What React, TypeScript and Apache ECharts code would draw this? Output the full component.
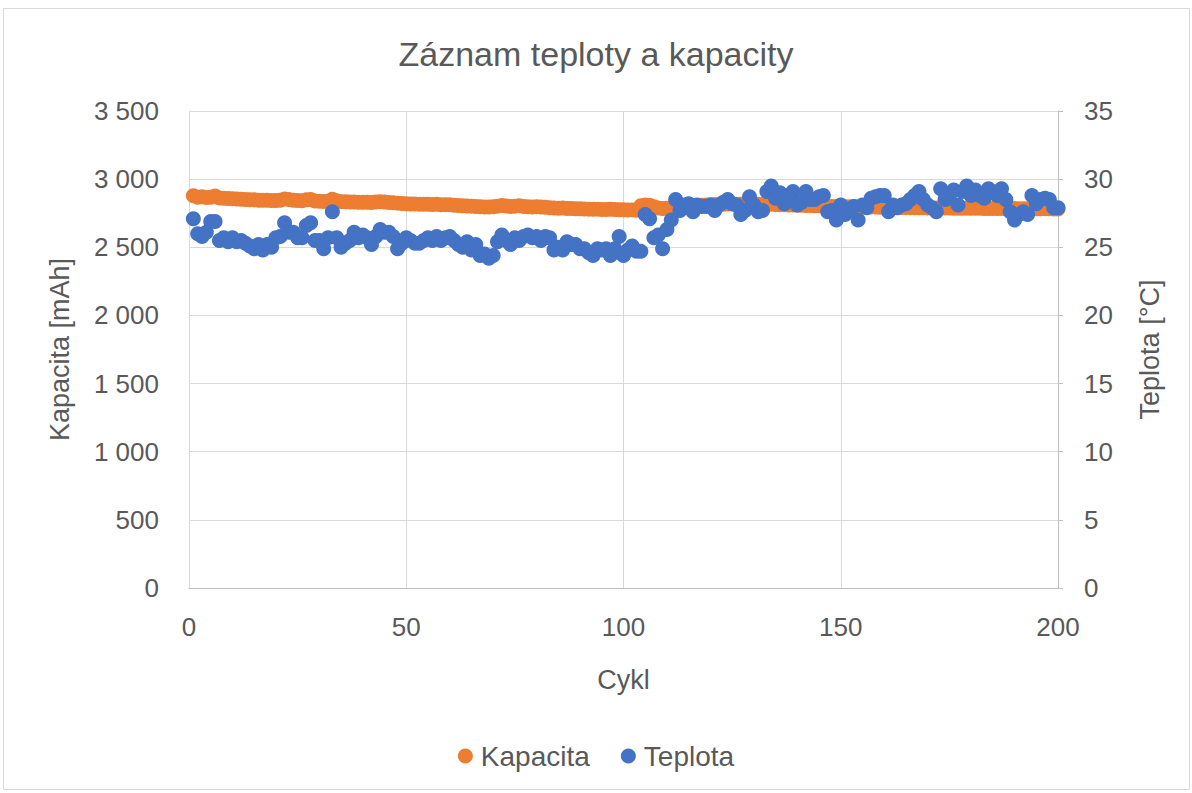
import React, { useEffect, useRef } from "react";
import * as echarts from "echarts";

const titleText = "Záznam teploty a kapacity";
const xName = "Cykl";
const leftName = "Kapacita [mAh]";
const rightName = "Teplota [°C]";
const seriesNames = ["Kapacita", "Teplota"];

const kapacita: number[] = [
  2878, 2868, 2870, 2866, 2868, 2876, 2862, 2860, 2858, 2856,
  2855, 2852, 2850, 2848, 2848, 2846, 2845, 2846, 2844, 2843,
  2846, 2855, 2850, 2846, 2844, 2842, 2848, 2850, 2840, 2838,
  2836, 2838, 2852, 2842, 2835, 2834, 2832, 2833, 2830, 2831,
  2830, 2828, 2832, 2835, 2833, 2828, 2826, 2824, 2822, 2820,
  2818, 2818, 2816, 2815, 2816, 2814, 2815, 2812, 2813, 2812,
  2808, 2806, 2805, 2803, 2802, 2800, 2798, 2796, 2795, 2797,
  2802, 2806, 2803, 2800, 2802, 2805, 2800, 2798, 2796, 2797,
  2795, 2793, 2790, 2788, 2786, 2788, 2785, 2784, 2783, 2782,
  2781, 2780, 2779, 2780, 2778, 2777, 2779, 2778, 2776, 2775,
  2774, 2773, 2772, 2805, 2810, 2808, 2798, 2788, 2785, 2786,
  2790, 2795, 2798, 2800, 2802, 2805, 2806, 2808, 2810, 2812,
  2814, 2815, 2816, 2818, 2817, 2816, 2815, 2817, 2818, 2816,
  2815, 2814, 2816, 2815, 2813, 2812, 2812, 2810, 2810, 2808,
  2808, 2806, 2806, 2805, 2804, 2803, 2802, 2800, 2800, 2800,
  2798, 2798, 2797, 2797, 2796, 2796, 2795, 2795, 2794, 2794,
  2793, 2793, 2792, 2792, 2791, 2791, 2790, 2790, 2790, 2789,
  2789, 2789, 2788, 2788, 2788, 2787, 2787, 2787, 2786, 2786,
  2786, 2786, 2785, 2785, 2785, 2785, 2784, 2784, 2784, 2784,
  2783, 2783, 2783, 2783, 2782, 2782, 2782, 2782, 2781, 2781,
];

const teplota: number[] = [
  27.1, 26.0, 25.8, 26.1, 26.9, 26.9, 25.5, 25.7, 25.4, 25.7,
  25.4, 25.5, 25.3, 25.1, 24.9, 25.2, 24.8, 25.2, 25.0, 25.7,
  25.8, 26.8, 26.1, 26.1, 25.7, 25.7, 26.6, 26.8, 25.5, 25.5,
  24.9, 25.7, 27.6, 25.7, 25.0, 25.3, 25.5, 26.1, 25.7, 25.9,
  25.7, 25.2, 25.8, 26.3, 26.1, 26.1, 25.8, 24.9, 25.3, 25.7,
  25.5, 25.3, 25.3, 25.5, 25.7, 25.5, 25.8, 25.5, 25.7, 25.8,
  25.5, 25.2, 25.0, 25.4, 24.8, 25.2, 24.4, 24.5, 24.2, 24.4,
  25.4, 25.9, 25.5, 25.2, 25.7, 25.5, 25.8, 25.9, 25.7, 25.8,
  25.5, 25.8, 25.7, 24.8, 25.0, 24.8, 25.4, 25.2, 25.2, 24.9,
  24.9, 24.6, 24.4, 24.9, 24.8, 24.9, 24.4, 24.9, 25.8, 24.4,
  24.8, 25.1, 24.7, 24.7, 27.4, 27.1, 25.7, 25.9, 24.9, 26.3,
  27.0, 28.5, 27.7, 28.1, 28.2, 27.6, 28.1, 28.0, 28.0, 28.1,
  27.7, 28.1, 28.3, 28.5, 28.2, 28.1, 27.4, 27.7, 28.7, 28.1,
  27.6, 27.7, 29.1, 29.5, 28.6, 29.0, 28.2, 28.8, 29.1, 28.1,
  28.3, 29.1, 28.5, 28.5, 28.7, 28.8, 27.6, 27.7, 27.0, 28.1,
  27.4, 27.7, 28.0, 27.0, 28.1, 27.9, 28.6, 28.7, 28.8, 28.8,
  27.6, 28.1, 27.9, 28.1, 28.2, 28.5, 28.8, 29.1, 28.5, 28.1,
  27.9, 27.6, 29.3, 28.5, 28.6, 29.2, 28.1, 29.1, 29.5, 28.8,
  29.2, 28.8, 28.6, 29.3, 29.1, 28.8, 29.3, 28.5, 27.6, 27.0,
  27.4, 27.6, 27.4, 28.8, 28.2, 28.5, 28.6, 28.5, 27.9, 27.9,
];

const FONT = "'Liberation Sans', Arial, sans-serif";
const TEXT = "#595959";

function fmtThousands(v: number): string {
  return String(v).replace(/\B(?=(\d{3})+(?!\d))/g, " ");
}

export default function App() {
  const ref = useRef<HTMLDivElement>(null);
  useEffect(() => {
    if (!ref.current) return;
    const chart = echarts.init(ref.current, undefined, { renderer: "svg" });
    const capData = kapacita.map((v, i) => [i + 1, v]);
    const tData = teplota.map((v, i) => [i + 1, v]);
    chart.setOption({
      animation: false,
      backgroundColor: "#ffffff",
      textStyle: { fontFamily: FONT },
      title: {
        text: titleText,
        left: "center",
        top: 32,
        textStyle: { fontFamily: FONT, fontSize: 34, fontWeight: "normal", color: TEXT },
      },
      graphic: [
        {
          type: "rect",
          shape: { x: 3.5, y: 8.5, width: 1186, height: 781 },
          style: { fill: "none", stroke: "#d9d9d9", lineWidth: 1 },
          silent: true,
        },
      ],
      legend: {
        top: 737,
        left: "center",
        icon: "circle",
        itemWidth: 15,
        itemHeight: 15,
        itemGap: 31,
        textStyle: { fontFamily: FONT, fontSize: 28, color: TEXT, padding: [0, 0, 0, 3] },
        data: seriesNames,
      },
      grid: { left: 189, right: 134, top: 111, bottom: 205, containLabel: false },
      xAxis: {
        type: "value",
        min: 0,
        max: 200,
        interval: 50,
        name: xName,
        nameLocation: "middle",
        nameGap: 78,
        nameTextStyle: { fontFamily: FONT, fontSize: 27, color: TEXT },
        axisLine: { show: true, lineStyle: { color: "#bfbfbf", width: 1 } },
        axisTick: { show: false },
        axisLabel: { fontFamily: FONT, fontSize: 26, color: TEXT, margin: 26 },
        splitLine: { show: true, lineStyle: { color: "#d9d9d9", width: 1 } },
      },
      yAxis: [
        {
          type: "value",
          min: 0,
          max: 3500,
          interval: 500,
          name: leftName,
          nameLocation: "middle",
          nameGap: 116,
          nameTextStyle: { fontFamily: FONT, fontSize: 27, color: TEXT },
          axisLine: { show: false },
          axisTick: { show: false },
          axisLabel: {
            fontFamily: FONT,
            fontSize: 26,
            color: TEXT,
            margin: 30,
            formatter: (v: number) => fmtThousands(v),
          },
          splitLine: { show: true, lineStyle: { color: "#d9d9d9", width: 1 } },
        },
        {
          type: "value",
          min: 0,
          max: 35,
          interval: 5,
          position: "right",
          name: rightName,
          nameLocation: "middle",
          nameGap: 78,
          nameTextStyle: { fontFamily: FONT, fontSize: 27, color: TEXT },
          axisLine: { show: true, lineStyle: { color: "#bfbfbf", width: 1 } },
          axisTick: { show: true, length: 5, lineStyle: { color: "#bfbfbf" } },
          axisLabel: { fontFamily: FONT, fontSize: 26, color: TEXT, margin: 26 },
          splitLine: { show: false },
        },
      ],
      series: [
        {
          name: seriesNames[0],
          type: "scatter",
          yAxisIndex: 0,
          symbol: "circle",
          symbolSize: 15,
          itemStyle: { color: "#ED7D31", opacity: 1 },
          data: capData,
        },
        {
          name: seriesNames[1],
          type: "scatter",
          yAxisIndex: 1,
          symbol: "circle",
          symbolSize: 15,
          itemStyle: { color: "#4472C4", opacity: 1 },
          data: tData,
        },
      ],
    });
    return () => chart.dispose();
  }, []);
  return (
    <div
      ref={ref}
      style={{ position: "fixed", left: 0, top: 0, width: 1192, height: 793 }}
    />
  );
}
